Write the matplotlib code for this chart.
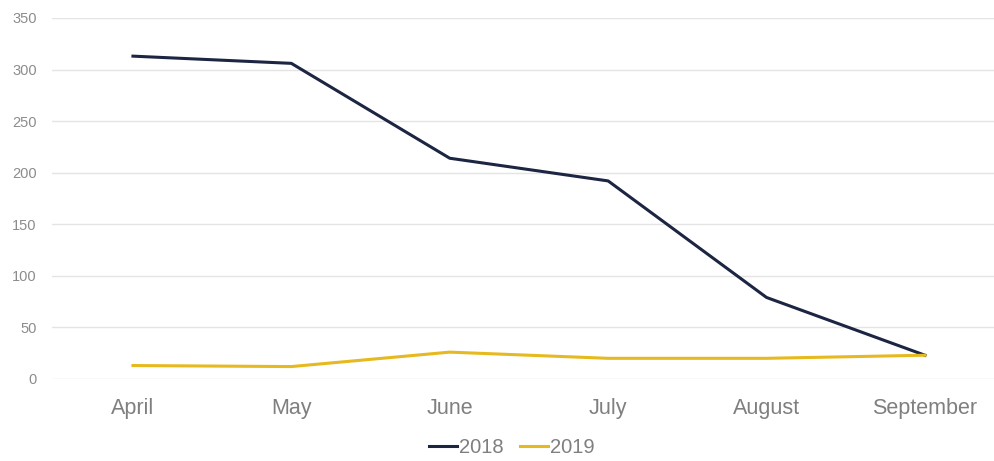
import matplotlib
matplotlib.use('Agg')
import matplotlib.pyplot as plt

# Data
months = ['April', 'May', 'June', 'July', 'August', 'September']
sales_2018 = [313, 306, 214, 192, 79, 23]
sales_2019 = [13, 12, 26, 20, 20, 23]
y_ticks = [0, 50, 100, 150, 200, 250, 300, 350]

plt.rcParams['font.family'] = ['Liberation Sans', 'DejaVu Sans']

fig = plt.figure(figsize=(9.94, 4.61), dpi=100)
ax = fig.add_axes([52 / 994, 0.178, 1 - 52 / 994, 0.961 - 0.178])

x = list(range(len(months)))
ax.plot(x, sales_2018, color='#1c2541', linewidth=2.2, label='2018')
ax.plot(x, sales_2019, color='#e6b91e', linewidth=2.2, label='2019')

ax.set_ylim(0, 350)
ax.set_xlim(-0.511, 5.436)
ax.set_yticks(y_ticks)
ax.set_xticks(x)
ax.set_xticklabels(months)

ax.grid(axis='y', color='#e4e4e4', linewidth=1)
ax.set_axisbelow(True)
for s in ax.spines.values():
    s.set_visible(False)
ax.tick_params(axis='both', length=0)
ax.tick_params(axis='x', labelsize=15.5, colors='#7f7f7f', pad=14)
ax.tick_params(axis='y', labelsize=10.5, colors='#8c8c8c', pad=11)

fig.legend(loc='center', bbox_to_anchor=(0.515, 0.03), ncol=2, frameon=False,
           fontsize=14.5, handlelength=1.4, handletextpad=0.1, columnspacing=0.8,
           labelcolor='#7f7f7f')

fig.savefig('out.png', dpi=100)
